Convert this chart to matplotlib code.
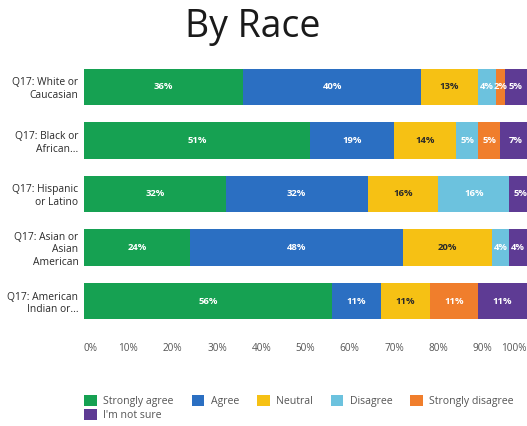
import matplotlib
matplotlib.use("Agg")
import matplotlib.pyplot as plt
import numpy as np

plt.rcParams["font.family"] = ["Open Sans", "DejaVu Sans"]

# Grupos (linhas) e respostas (segmentos)
grupos = ["Q17: White or\nCaucasian", "Q17: Black or\nAfrican...",
          "Q17: Hispanic\nor Latino", "Q17: Asian or\nAsian\nAmerican",
          "Q17: American\nIndian or..."]
respostas = ["Strongly agree", "Agree", "Neutral", "Disagree",
             "Strongly disagree", "I'm not sure"]

# Percentuais por resposta, na ordem de grupos
strongly_agree = [36, 51, 32, 24, 56]
agree = [40, 19, 32, 48, 11]
neutral = [13, 14, 16, 20, 11]
disagree = [4, 5, 16, 4, 0]
strongly_disagree = [2, 5, 0, 0, 11]
not_sure = [5, 7, 5, 4, 11]

cores = ["#16a152", "#2b6fc2", "#f6c114", "#6cc2de", "#f07e2c", "#5e3b94"]
cor_texto = ["white", "white", "#2a2a2a", "white", "white", "white"]

ticks = [0, 10, 20, 30, 40, 50, 60, 70, 80, 90, 100]

series = [strongly_agree, agree, neutral, disagree, strongly_disagree, not_sure]

fig = plt.figure(figsize=(5.27, 4.26), dpi=100)
ax = fig.add_axes([84 / 527, 1 - 328 / 426, 443 / 527, 268 / 426])

y = np.arange(len(grupos))
esquerda = np.zeros(len(grupos))
handles = []
for nome, valores, cor, ctxt in zip(respostas, series, cores, cor_texto):
    valores = np.array(valores, dtype=float)
    barras = ax.barh(y, valores, left=esquerda, height=0.68, color=cor,
                     label=nome)
    handles.append(barras)
    for yi, ini, v in zip(y, esquerda, valores):
        if v > 0:
            ax.text(ini + v / 2, yi, f"{v:.0f}%", ha="center", va="center",
                    fontsize=6.8, color=ctxt, fontweight="bold")
    esquerda += valores

ax.set_xlim(0, 100)
ax.set_ylim(len(grupos) - 0.5, -0.5)
ax.set_yticks(y)
ax.set_yticklabels(grupos, fontsize=7.4, color="#2a2a2a",
                   multialignment="right")
ax.set_xticks(ticks)
ax.set_xticklabels([f"{t}%" for t in ticks], fontsize=7.2, color="#555555")
# o último rótulo encosta na borda: alinha pela direita
ax.get_xticklabels()[0].set_ha("left")
ax.get_xticklabels()[-1].set_ha("right")
ax.tick_params(axis="both", length=0)
ax.tick_params(axis="x", pad=11)
ax.tick_params(axis="y", pad=4)
for lado in ax.spines.values():
    lado.set_visible(False)

fig.text(253 / 527, 1 - 27 / 426, "By Race", ha="center", va="center",
         fontsize=27, color="#1a1a1a")

# ncol=5 preenche por coluna: reordena para ficar em linhas
ordem = [0, 5, 1, 2, 3, 4]
fig.legend([handles[i] for i in ordem], [respostas[i] for i in ordem],
           loc="upper left", bbox_to_anchor=(78 / 527, 1 - 389 / 426),
           ncol=5, frameon=False, fontsize=7.6, handlelength=1.2,
           handleheight=1.2, columnspacing=1.7, handletextpad=0.6,
           labelspacing=0.15, borderaxespad=0.2, labelcolor="#555555")

fig.savefig("out.png", dpi=100)
